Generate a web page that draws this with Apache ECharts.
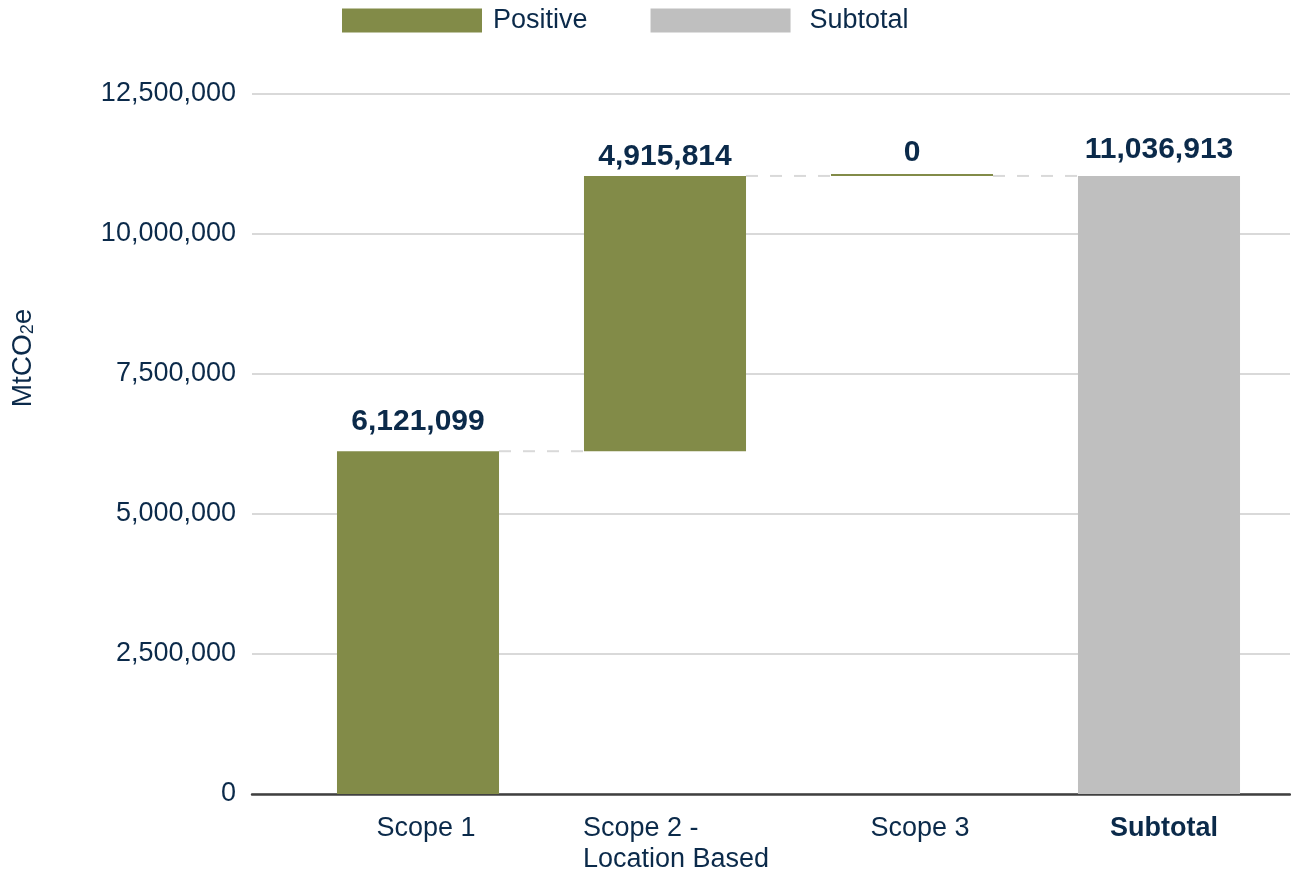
<!DOCTYPE html>
<html>
<head>
<meta charset="utf-8">
<script src="https://cdn.jsdelivr.net/npm/echarts@6/dist/echarts.min.js"></script>
<style>html,body{margin:0;padding:0;background:#fff;}#chart{width:1291px;height:875px;}</style>
</head>
<body>
<div id="chart"></div>
<script>
const categories = ['Scope 1', 'Scope 2 -\nLocation Based', 'Scope 3', 'Subtotal'];
const positiveValues = [6121099, 4915814, 0];
const subtotalValue = 11036913;
const yTicks = [0, 2500000, 5000000, 7500000, 10000000, 12500000];

const TEXT = '#0b2a4a';
const GREEN = '#828B48';
const GRAY = '#BFBFBF';

// Derived waterfall layout
const baseValues = [];
const tops = [];
let run = 0;
positiveValues.forEach(v => { baseValues.push(run); run += v; tops.push(run); });
baseValues.push('-');
const levels = tops.slice();

// label vertical nudges (style only)
const posLabelShift = [0, 10, 8];
const posData = positiveValues.map((v, i) => ({ value: v, label: { offset: [0, posLabelShift[i]] } })).concat(['-']);
const subData = ['-', '-', '-', { value: subtotalValue, label: { offset: [0, 3] } }];

const fmt = v => Number(v).toLocaleString('en-US');

const chart = echarts.init(document.getElementById('chart'));
chart.setOption({
  animation: false,
  textStyle: { fontFamily: 'Liberation Sans, Arial, sans-serif' },
  legend: {
    top: 2, left: 337,
    itemWidth: 140, itemHeight: 24, itemGap: 63,
    textStyle: { color: TEXT, fontSize: 27 },
    data: [
      { name: 'Positive', icon: 'rect', textStyle: { padding: [0, 0, 0, 6] } },
      { name: 'Subtotal', icon: 'rect', textStyle: { padding: [0, 0, 0, 14] } }
    ]
  },
  graphic: [{
    type: 'text', x: 23, y: 358, rotation: Math.PI / 2,
    style: {
      text: '{a|MtCO}{s|2}{a|e}', align: 'center', verticalAlign: 'middle',
      rich: { a: { fontSize: 28, fill: TEXT, fontFamily: 'Liberation Sans' },
              s: { fontSize: 18, fill: TEXT, fontFamily: 'Liberation Sans', padding: [11, 0, 0, 0] } }
    }
  }],
  grid: [
    { left: 252, right: 1, top: 94, bottom: 81 },
    { left: 294.5, right: 8.5, top: 94, bottom: 81 }
  ],
  xAxis: [
    { type: 'category', gridIndex: 0, data: categories, axisLine: { show: true, lineStyle: { color: '#404040', width: 2.5 } },
      axisTick: { show: false }, axisLabel: { show: false }, splitLine: { show: false } },
    { type: 'category', gridIndex: 1, data: categories, axisLine: { show: false }, axisTick: { show: false },
      axisLabel: {
        interval: 0, margin: 19, color: TEXT, fontSize: 27, lineHeight: 31,
        formatter: function (v) {
          if (v === 'Subtotal') return '{b|Subtotal}';
          if (v.indexOf('\n') >= 0) return v.split('\n').map(s => '{l|' + s + '}').join('\n');
          return '{n|' + v + '}';
        },
        rich: {
          n: { fontSize: 27, color: TEXT, padding: [0, 0, 0, 16], lineHeight: 31 },
          b: { fontSize: 27, color: TEXT, fontWeight: 'bold', padding: [0, 0, 0, 10], lineHeight: 31 },
          l: { fontSize: 27, color: TEXT, width: 192, align: 'left', padding: [0, 0, 0, 28], lineHeight: 31 }
        }
      } }
  ],
  yAxis: [
    { type: 'value', gridIndex: 0, min: 0, max: 12500000, interval: 2500000,
      axisLine: { show: false }, axisTick: { show: false },
      axisLabel: { color: TEXT, fontSize: 27, margin: 16, formatter: v => fmt(v) },
      splitLine: { lineStyle: { color: '#d9d9d9', width: 2 } } },
    { type: 'value', gridIndex: 1, min: 0, max: 12500000, interval: 2500000, show: false, splitLine: { show: false } }
  ],
  series: [
    { name: 'base', type: 'bar', xAxisIndex: 1, yAxisIndex: 1, stack: 'w', barWidth: '65.6%',
      itemStyle: { color: 'transparent' }, emphasis: { disabled: true }, data: baseValues, silent: true },
    { name: 'Positive', type: 'bar', xAxisIndex: 1, yAxisIndex: 1, stack: 'w', barWidth: '65.6%', barMinHeight: 2,
      itemStyle: { color: GREEN }, data: posData,
      label: { show: true, position: 'top', distance: 14, color: TEXT, fontSize: 30, fontWeight: 'bold', formatter: p => fmt(p.value) } },
    { name: 'Subtotal', type: 'bar', xAxisIndex: 1, yAxisIndex: 1, stack: 'w', barWidth: '65.6%',
      itemStyle: { color: GRAY }, data: subData,
      label: { show: true, position: 'top', distance: 14, color: TEXT, fontSize: 30, fontWeight: 'bold', formatter: p => fmt(p.value) } },
    { name: 'connectors', type: 'custom', xAxisIndex: 1, yAxisIndex: 1, silent: true, z: 1,
      data: levels.map((v, i) => [i, v]),
      renderItem: function (params, api) {
        const i = api.value(0), v = api.value(1);
        const p0 = api.coord([i, v]);
        const p1 = api.coord([i + 1, v]);
        const bw = api.size([1, 0])[0] * 0.656;
        return { type: 'line', shape: { x1: p0[0] + bw / 2, y1: p0[1], x2: p1[0] - bw / 2, y2: p1[1] },
          style: { stroke: '#d9d9d9', lineWidth: 2, lineDash: [12, 12] } };
      } }
  ]
});
</script>
</body>
</html>
